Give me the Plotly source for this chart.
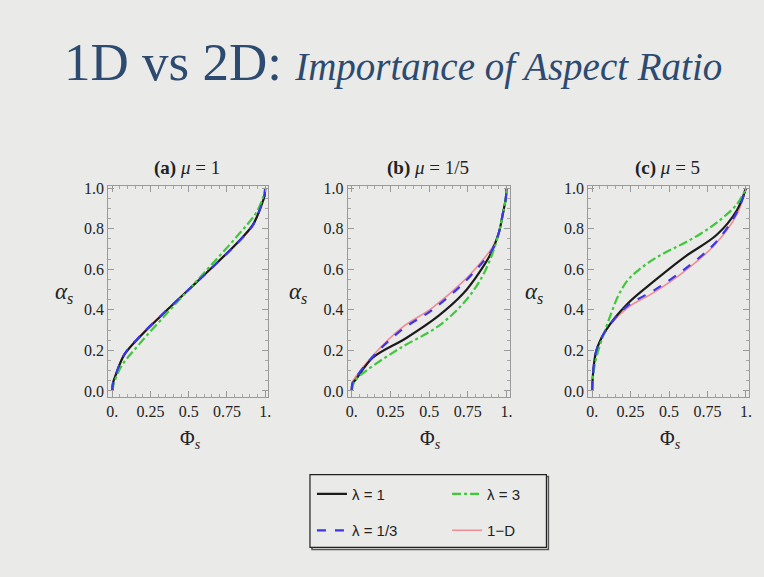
import plotly.graph_objects as go

# ---------------- data ----------------
panel_titles = ["<b>(a)</b> <i>μ</i> = 1", "<b>(b)</b> <i>μ</i> = 1/5", "<b>(c)</b> <i>μ</i> = 5"]
series_names = ["λ = 1", "λ = 1/3", "λ = 3", "1−D"]

x_ticks = [0, 0.25, 0.5, 0.75, 1]
x_ticktext = ["0.", "0.25", "0.5", "0.75", "1."]
y_ticks = [0, 0.2, 0.4, 0.6, 0.8, 1.0]
y_ticktext = ["0.0", "0.2", "0.4", "0.6", "0.8", "1.0"]

# panel (a) mu = 1
a_l1_x = [0, 0.005, 0.026, 0.08, 0.19, 0.36, 0.5, 0.64, 0.81, 0.92, 0.974, 0.995, 1]
a_l1_y = [0, 0.04, 0.086, 0.18, 0.275, 0.40, 0.5, 0.60, 0.725, 0.82, 0.914, 0.96, 1]
a_l13_x = [0, 0.005, 0.026, 0.08, 0.19, 0.36, 0.5, 0.64, 0.81, 0.92, 0.974, 0.995, 1]
a_l13_y = [0, 0.04, 0.087, 0.182, 0.277, 0.401, 0.5, 0.599, 0.723, 0.818, 0.913, 0.96, 1]
a_l3_x = [0, 0.01, 0.058, 0.17, 0.36, 0.5, 0.64, 0.83, 0.942, 0.99, 1]
a_l3_y = [0, 0.035, 0.12, 0.225, 0.385, 0.5, 0.615, 0.775, 0.88, 0.965, 1]
a_1d_x = [0, 0.005, 0.026, 0.08, 0.19, 0.36, 0.5, 0.64, 0.81, 0.92, 0.974, 0.995, 1]
a_1d_y = [0, 0.042, 0.088, 0.183, 0.278, 0.402, 0.5, 0.598, 0.722, 0.817, 0.912, 0.958, 1]

# panel (b) mu = 1/5
b_l1_x = [0, 0.005, 0.03, 0.137, 0.35, 0.56, 0.72, 0.82, 0.90, 0.95, 0.975, 0.995, 1]
b_l1_y = [0, 0.035, 0.06, 0.165, 0.26, 0.37, 0.48, 0.58, 0.68, 0.78, 0.87, 0.95, 1]
b_l13_x = [0, 0.005, 0.03, 0.137, 0.32, 0.52, 0.72, 0.84, 0.91, 0.95, 0.975, 0.995, 1]
b_l13_y = [0, 0.04, 0.07, 0.17, 0.30, 0.40, 0.53, 0.63, 0.70, 0.78, 0.87, 0.95, 1]
b_l3_x = [0, 0.02, 0.094, 0.31, 0.56, 0.73, 0.84, 0.91, 0.95, 0.975, 0.995, 1]
b_l3_y = [0, 0.05, 0.10, 0.21, 0.32, 0.44, 0.56, 0.68, 0.78, 0.87, 0.95, 1]
b_1d_x = [0, 0.005, 0.03, 0.137, 0.32, 0.52, 0.72, 0.84, 0.91, 0.95, 0.975, 0.995, 1]
b_1d_y = [0, 0.045, 0.075, 0.175, 0.31, 0.41, 0.54, 0.64, 0.71, 0.78, 0.87, 0.95, 1]

# panel (c) mu = 5
c_l1_x = [0, 0.006, 0.028, 0.09, 0.23, 0.40, 0.60, 0.81, 0.94, 1]
c_l1_y = [0, 0.086, 0.20, 0.30, 0.43, 0.54, 0.66, 0.77, 0.89, 1]
c_l13_x = [0, 0.006, 0.028, 0.09, 0.23, 0.40, 0.60, 0.80, 0.94, 1]
c_l13_y = [0, 0.086, 0.20, 0.30, 0.42, 0.495, 0.60, 0.73, 0.88, 1]
c_l3_x = [0, 0.01, 0.04, 0.08, 0.125, 0.17, 0.23, 0.30, 0.38, 0.45, 0.52, 0.60, 0.70, 0.81, 0.94, 1]
c_l3_y = [0, 0.10, 0.20, 0.29, 0.385, 0.47, 0.545, 0.595, 0.64, 0.672, 0.70, 0.73, 0.773, 0.83, 0.92, 1]
c_1d_x = [0, 0.006, 0.028, 0.09, 0.23, 0.40, 0.60, 0.79, 0.94, 1]
c_1d_y = [0, 0.086, 0.20, 0.30, 0.41, 0.485, 0.59, 0.715, 0.87, 1]

panels = [
    [(a_l1_x, a_l1_y), (a_l13_x, a_l13_y), (a_l3_x, a_l3_y), (a_1d_x, a_1d_y)],
    [(b_l1_x, b_l1_y), (b_l13_x, b_l13_y), (b_l3_x, b_l3_y), (b_1d_x, b_1d_y)],
    [(c_l1_x, c_l1_y), (c_l13_x, c_l13_y), (c_l3_x, c_l3_y), (c_1d_x, c_1d_y)],
]

# ---------------- styling ----------------
W, H = 764, 577
BG = "#eaeae8"
styles = [
    dict(color="#1b1b1b", width=2.2, dash="solid"),
    dict(color="#3a35e8", width=2.2, dash="dash"),
    dict(color="#3ec83a", width=2.2, dash="dashdot"),
    dict(color="#f08c98", width=1.6, dash="solid"),
]
legend_target = ["legend", "legend", "legend2", "legend2"]
draw_order = [3, 0, 2, 1]

x_px = [(107, 268), (348, 511), (590, 752)]
y_px = (183, 397)
alpha_x = [62, 298, 536]

fig = go.Figure()
for p, series in enumerate(panels):
    xa = "x" if p == 0 else f"x{p+1}"
    ya = "y" if p == 0 else f"y{p+1}"
    for s in draw_order:
        xs, ys = series[s]
        fig.add_trace(go.Scatter(
            x=xs, y=ys, mode="lines", name=series_names[s],
            line=dict(shape="spline", smoothing=1.0, **styles[s]),
            xaxis=xa, yaxis=ya,
            showlegend=(p == 0), legend=legend_target[s],
            legendgroup=f"g{s}", legendrank=s,
            hoverinfo="skip",
        ))

axis_common = dict(
    showgrid=False, zeroline=False, showline=True, linecolor="#9a9a9a", linewidth=1,
    mirror="allticks", ticks="inside", ticklen=6, tickwidth=1, tickcolor="#9a9a9a",
    tickfont=dict(family="Liberation Serif", size=16, color="#222"),
    minor=dict(ticks="inside", ticklen=3, tickcolor="#a8a8a8", dtick=0.05, showgrid=False),
)

layout = dict(
    width=W, height=H, margin=dict(l=0, r=0, t=0, b=0),
    paper_bgcolor=BG, plot_bgcolor=BG,
    font=dict(family="Liberation Serif", color="#222"),
)
for p in range(3):
    sx = "" if p == 0 else str(p + 1)
    x0, x1 = x_px[p]
    layout[f"xaxis{sx}"] = dict(
        axis_common, domain=[x0 / W, x1 / W], range=[-0.026, 1.02],
        tickvals=x_ticks, ticktext=x_ticktext, anchor=f"y{sx}", fixedrange=True,
    )
    layout[f"yaxis{sx}"] = dict(
        axis_common, domain=[(H - y_px[1]) / H, (H - y_px[0]) / H], range=[-0.029, 1.01],
        tickvals=y_ticks, ticktext=y_ticktext, anchor=f"x{sx}", fixedrange=True,
    )
fig.update_layout(**layout)

annotations = []
# main title
annotations.append(dict(
    x=394 / W, y=(H - 57) / H, xref="paper", yref="paper", showarrow=False,
    xanchor="center", yanchor="middle",
    text="1D vs 2D: <span style='font-size:39px'><i>Importance of Aspect Ratio</i></span>",
    font=dict(family="Liberation Serif", size=53, color="#2d4a70"),
))
for p in range(3):
    x0, x1 = x_px[p]
    cx = (x0 + x1) / 2
    annotations.append(dict(
        x=(cx - 1) / W, y=(H - 165) / H, xref="paper", yref="paper", showarrow=False,
        xanchor="center", yanchor="middle", text=panel_titles[p],
        font=dict(family="Liberation Serif", size=19, color="#222"),
    ))
    annotations.append(dict(
        x=alpha_x[p] / W, y=(H - 292) / H, xref="paper", yref="paper", showarrow=False,
        xanchor="center", yanchor="middle", text="<i>α<sub>s</sub></i>",
        font=dict(family="Liberation Serif", size=23, color="#222"),
    ))
    annotations.append(dict(
        x=(cx + 2) / W, y=(H - 440) / H, xref="paper", yref="paper", showarrow=False,
        xanchor="center", yanchor="middle", text="Φ<sub><i>s</i></sub>",
        font=dict(family="Liberation Serif", size=20, color="#222"),
    ))

leg_common = dict(
    orientation="v", xanchor="left", yanchor="top", bgcolor="rgba(0,0,0,0)",
    borderwidth=0, font=dict(family="Liberation Sans", size=15, color="#222"),
    tracegroupgap=14, itemclick=False, itemdoubleclick=False,
)
fig.update_layout(
    annotations=annotations,
    legend=dict(leg_common, x=312 / W, y=(H - 479) / H),
    legend2=dict(leg_common, x=448 / W, y=(H - 479) / H),
    shapes=[
        dict(type="rect", xref="paper", yref="paper",
             x0=312 / W, x1=550 / W, y0=(H - 552) / H, y1=(H - 478) / H,
             line=dict(color="#555", width=1.5), fillcolor="rgba(0,0,0,0)", layer="below"),
        dict(type="rect", xref="paper", yref="paper",
             x0=310 / W, x1=548 / W, y0=(H - 550) / H, y1=(H - 476) / H,
             line=dict(color="#222", width=1.2), fillcolor=BG, layer="below"),
    ],
)

fig.write_html(
    "out.html",
    config={"displayModeBar": False},
    post_script="document.body.style.margin='0';document.body.style.padding='0';"
                "document.body.style.overflow='hidden';",
)
